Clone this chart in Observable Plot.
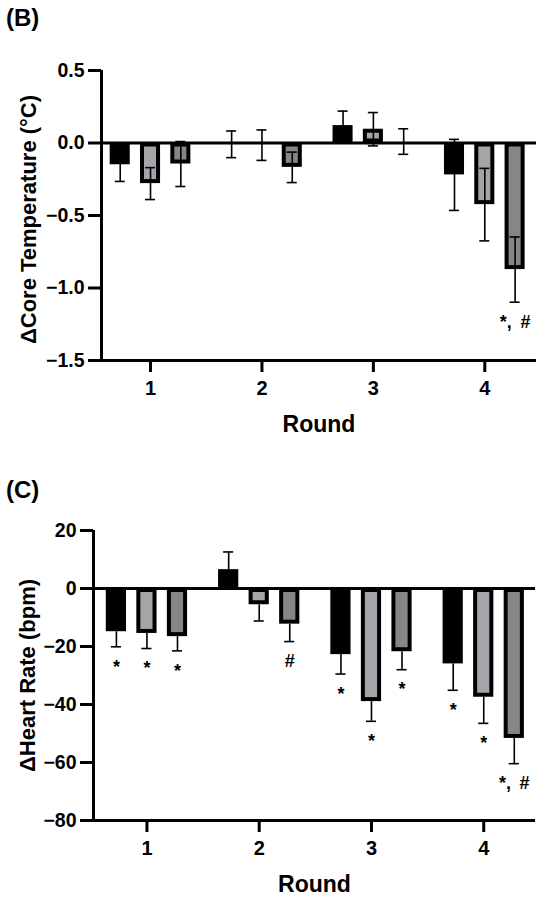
<!DOCTYPE html>
<html><head><meta charset="utf-8">
<script src="https://cdn.jsdelivr.net/npm/d3@7"></script>
<script src="https://cdn.jsdelivr.net/npm/@observablehq/plot@0.6"></script>
<style>
body{margin:0;background:#fff;font-family:"Liberation Sans",Arial,sans-serif;}
#wrap{position:relative;width:550px;height:906px;overflow:hidden;}
.panel-label{position:absolute;left:6px;font-weight:bold;font-size:24px;line-height:1;color:#000;}
svg{display:block}
g[aria-label="y-axis tick"], g[aria-label="x-axis tick"],
g[aria-label="y-axis tick"] path, g[aria-label="x-axis tick"] path {stroke-width:3px !important; stroke:#000;}
</style></head><body>
<div id="wrap">
<div id="b"></div>
<div id="c"></div>
<div class="panel-label" style="top:6px">(B)</div>
<div class="panel-label" style="top:478px">(C)</div>
</div>
<script>
// ---------- data ----------
const rounds = [1, 2, 3, 4];
const seriesNames = ["Group 1", "Group 2", "Group 3"];
const seriesColors = ["#000000", "#a4a4a9", "#868686"];

// (B) change in core temperature (°C), per series, per round
const coreMeanS1 = [-0.15, -0.009, 0.12, -0.22];
const coreMeanS2 = [-0.28, -0.015, 0.095, -0.425];
const coreMeanS3 = [-0.145, -0.168, 0.01, -0.873];
const coreErrS1 = [0.115, 0.092, 0.10, 0.245];
const coreErrS2 = [0.11, 0.105, 0.115, 0.25];
const coreErrS3 = [0.155, 0.105, 0.088, 0.225];
const coreNoteRound = [4];
const coreNoteSeries = [2];
const coreNoteText = ["*,\u2009 #"];
const coreTicks = [0.5, 0, -0.5, -1, -1.5];

// (C) change in heart rate (bpm)
const hrMeanS1 = [-14.9, 6.5, -22.8, -26.0];
const hrMeanS2 = [-15.5, -5.6, -39.0, -37.5];
const hrMeanS3 = [-16.6, -12.3, -21.8, -51.7];
const hrErrS1 = [5.2, 6.1, 6.7, 9.1];
const hrErrS2 = [5.2, 5.6, 6.8, 9.0];
const hrErrS3 = [4.9, 6.0, 6.2, 8.7];
const hrNoteRound = [1, 1, 1, 2, 3, 3, 3, 4, 4, 4];
const hrNoteSeries = [0, 1, 2, 2, 0, 1, 2, 0, 1, 2];
const hrNoteText = ["*", "*", "*", "#", "*", "*", "*", "*", "*", "*,\u2009 #"];
const hrTicks = [20, 0, -20, -40, -60, -80];

// ---------- layout ----------
const seriesOffset = [-0.272, 0, 0.272];
const barHalf = 0.09;
const capHalf = 0.045;

function buildRows(means, errs) {
  return seriesNames.flatMap((name, s) => rounds.map((r, j) => ({round: r, s, name, mean: means[s][j], err: errs[s][j]})));
}
function buildNotes(rows, nr, ns, nt) {
  return nr.map((r, i) => {
    const d = rows.find(e => e.round === r && e.s === ns[i]);
    return {...d, label: nt[i]};
  });
}

function panel(o) {
  const cx = d => d.round + seriesOffset[d.s];
  const sign = d => (d.mean >= 0 ? 1 : -1);
  const lo = d => o.twoSided ? d.mean - d.err : d.mean;
  const hi = d => o.twoSided ? d.mean + d.err : d.mean + sign(d) * d.err;
  const caps = o.data.flatMap(d => o.twoSided
    ? [{...d, cy: d.mean - d.err}, {...d, cy: d.mean + d.err}]
    : [{...d, cy: d.mean + sign(d) * d.err}]);
  return Plot.plot({
    width: 550, height: o.height,
    marginLeft: o.ml, marginRight: o.mr, marginTop: o.mt, marginBottom: o.mb,
    style: {fontFamily: "'Liberation Sans', Arial, sans-serif", fontWeight: "bold", color: "#000", background: "#fff", overflow: "visible"},
    x: {domain: o.xDomain},
    y: {domain: o.yDomain},
    marks: [
      Plot.rect(o.data, {x1: d => cx(d) - barHalf, x2: d => cx(d) + barHalf, y1: () => 0, y2: d => d.mean,
        fill: d => seriesColors[d.s], stroke: "#000", strokeWidth: 4, inset: 2}),
      Plot.ruleY([0], {stroke: "#000", strokeWidth: 3}),
      Plot.ruleX(o.data, {x: cx, y1: lo, y2: hi, stroke: "#000", strokeWidth: 1.6}),
      Plot.ruleY(caps, {y: "cy", x1: d => cx(d) - capHalf, x2: d => cx(d) + capHalf, stroke: "#000", strokeWidth: 1.6}),
      Plot.text(o.notes, {x: cx, y: d => d.mean - d.err, text: "label", dy: 20, fontSize: 18, fontWeight: "bold", fill: "#000"}),
      Plot.ruleX([o.xDomain[0]], {stroke: "#000", strokeWidth: 3}),
      Plot.ruleY([o.yDomain[0]], {stroke: "#000", strokeWidth: 3}),
      Plot.axisY({ticks: o.yTicks, tickFormat: o.yFormat, tickSize: 13, tickPadding: 4, stroke: "#000", strokeWidth: 3,
        fontSize: 19.5, fontWeight: "bold", fill: "#000", label: null}),
      Plot.axisX({ticks: rounds, tickFormat: d3.format("d"), tickSize: 12, tickPadding: 8, stroke: "#000", strokeWidth: 3,
        fontSize: 20, fontWeight: "bold", fill: "#000", label: null}),
      Plot.text([o.yLabel], {frameAnchor: "left", rotate: -90, dx: o.labelDx, dy: o.labelDy, textAnchor: "middle", lineAnchor: "middle",
        fontSize: 22, fontWeight: "bold", fill: "#000"}),
      Plot.text(["Round"], {frameAnchor: "bottom", dy: 64, textAnchor: "middle", lineAnchor: "middle",
        fontSize: 23, fontWeight: "bold", fill: "#000"})
    ]
  });
}

const coreRows = buildRows([coreMeanS1, coreMeanS2, coreMeanS3], [coreErrS1, coreErrS2, coreErrS3]);
const hrRows = buildRows([hrMeanS1, hrMeanS2, hrMeanS3], [hrErrS1, hrErrS2, hrErrS3]);

document.getElementById("b").append(panel({
  data: coreRows, notes: buildNotes(coreRows, coreNoteRound, coreNoteSeries, coreNoteText),
  twoSided: true, height: 445, ml: 101, mr: 14, mt: 70, mb: 85,
  xDomain: [0.56, 4.464], yDomain: [-1.5, 0.5], yTicks: coreTicks, yFormat: d3.format(".1f"),
  yLabel: "ΔCore Temperature (°C)", labelDx: -73, labelDy: 4
}));
document.getElementById("c").append(panel({
  data: hrRows, notes: buildNotes(hrRows, hrNoteRound, hrNoteSeries, hrNoteText),
  twoSided: false, height: 461, ml: 93, mr: 15, mt: 85, mb: 86,
  xDomain: [0.524, 4.461], yDomain: [-80, 20], yTicks: hrTicks, yFormat: d3.format("d"),
  yLabel: "ΔHeart Rate (bpm)", labelDx: -66, labelDy: 0
}));
</script>
</body></html>
